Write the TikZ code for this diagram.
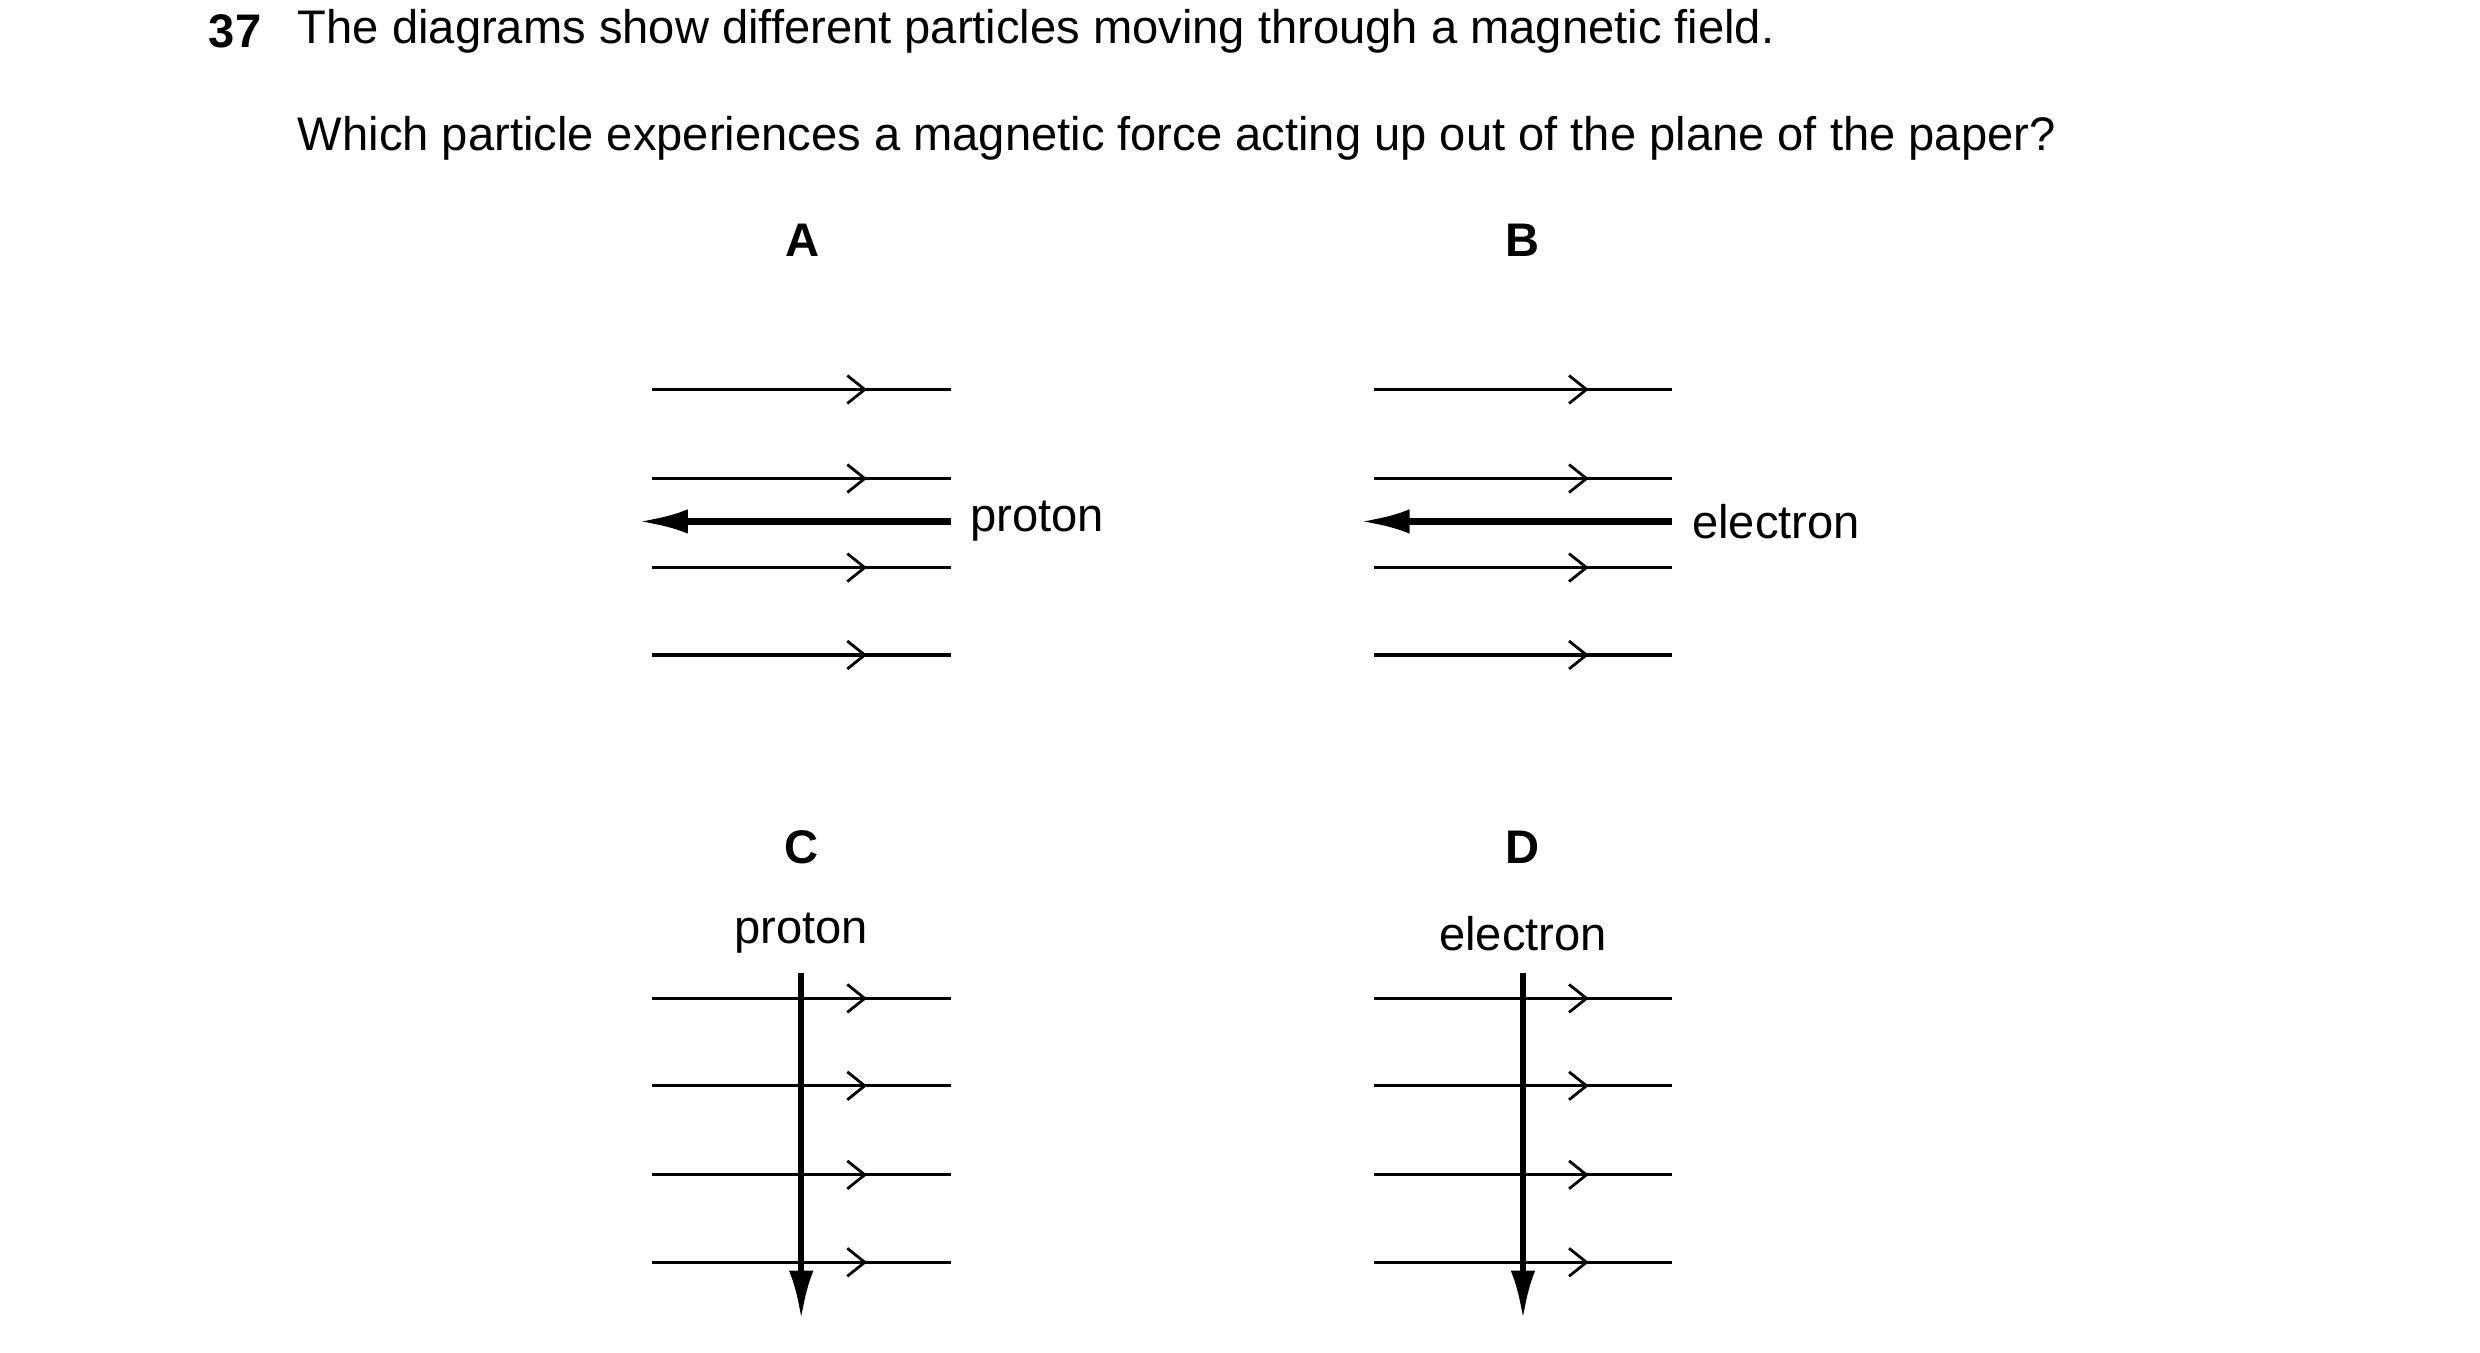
\documentclass[tikz,border=0pt]{standalone}
\usepackage{fontspec}
\setmainfont{Liberation Sans}
\usetikzlibrary{arrows.meta,decorations.markings}
\begin{document}
\begin{tikzpicture}[x=0.016cm,y=-0.016cm,
  field/.style={line width=0.9pt,postaction={decorate},decoration={markings,mark=at position 0.72 with {\arrow{Straight Barb[length=5pt,width=8pt,line width=0.8pt]}}}},
  particle/.style={line width=1.8pt,-{Latex[length=14pt,width=7pt]}},
  txt/.style={font=\fontsize{13.5}{16}\selectfont,inner sep=0pt},
  lab/.style={font=\bfseries\fontsize{13.5}{16}\selectfont,inner sep=0pt}]
\useasboundingbox (0,0) rectangle (1560,851);
\node[txt,anchor=west,font=\bfseries\fontsize{13.5}{16}\selectfont] (num) at (131,20) {37};
\node[txt,anchor=west] (q1) at (187,20) {The diagrams show different particles moving through a magnetic field.};
\node[txt,anchor=west] (q2) at (187,87) {Which particle experiences a magnetic force acting up out of the plane of the paper?};
\node[lab] (A) at (505,151) {A};
\node[lab] (B) at (958,151) {B};
\node[lab] (C) at (504,533) {C};
\node[lab] (D) at (958,533) {D};
% A and B
\foreach \ox/\nm/\pt in {410/a/proton,864/b/electron}{
  \foreach \y in {245,301,357,412} \draw[field] (\ox,\y) -- (\ox+188,\y);
  \coordinate (\nm s) at (\ox+188,328);
  \coordinate (\nm e) at (\ox-8,328);
  \draw[particle] (\nm s) -- (\nm e);
  \node[txt,anchor=west] (\nm t) at (\ox+200,328) {\pt};
}
% C and D
\foreach \ox/\nm/\pt in {410/c/proton,864/d/electron}{
  \node[txt] (\nm t) at (\ox+94,587) {\pt};
  \foreach \y in {628,683,739,794} \draw[field] (\ox,\y) -- (\ox+188,\y);
  \coordinate (\nm s) at (\ox+94,612);
  \coordinate (\nm e) at (\ox+94,830);
  \draw[particle] (\nm s) -- (\nm e);
}
\end{tikzpicture}
\end{document}
